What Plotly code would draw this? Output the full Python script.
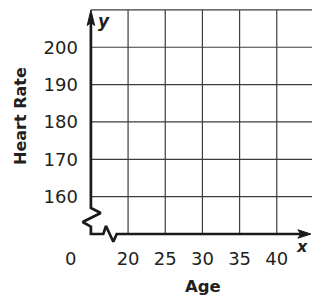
import plotly.graph_objects as go

# ---- data / labels ----
X_TICKS = [20, 25, 30, 35, 40]
Y_TICKS = [160, 170, 180, 190, 200]
Y_TOP = 210
X_ORIGIN, Y_ORIGIN = 15, 150
ZERO_LABEL = "0"
X_TITLE = "Age"
Y_TITLE = "Heart Rate"
X_VAR = "x"
Y_VAR = "y"

# ---- geometry ----
W, H = 312, 299
PX_X0 = 90.9       # pixel column of x = 15
PX_PER_X = 7.435   # pixels per x unit
PY_Y0 = 234.0      # pixel row of y = 150
PX_PER_Y = 3.735   # pixels per y unit

FONT = "DejaVu Sans"
TXT = "#231f20"
GRID = "#3c3c3c"
AXC = "#1a1a1a"


def px_to_x(px):
    return X_ORIGIN + (px - PX_X0) / PX_PER_X


def py_to_y(py):
    return Y_ORIGIN + (PY_Y0 - py) / PX_PER_Y


def off(dx, dy):
    """pixel offset from the origin -> data coords (dy positive = down)"""
    return px_to_x(PX_X0 + dx), py_to_y(PY_Y0 + dy)


x_max = px_to_x(W)
py_top = PY_Y0 - (Y_TOP - Y_ORIGIN) * PX_PER_Y

fig = go.Figure()

# invisible trace on the main (labelled) axes
fig.add_trace(go.Scatter(x=[], y=[], xaxis="x", yaxis="y", showlegend=False))

# grid lines (drawn on full-paper axes)
gx, gy = [], []
for v in X_TICKS:
    gx += [v, v, None]
    gy += [Y_ORIGIN, Y_TOP, None]
for v in Y_TICKS + [Y_TOP]:
    gx += [X_ORIGIN, x_max + 1, None]
    gy += [v, v, None]
fig.add_trace(go.Scatter(x=gx, y=gy, mode="lines", xaxis="x2", yaxis="y2",
                         line=dict(color=GRID, width=1.2), showlegend=False,
                         hoverinfo="skip"))

# axis lines with break symbols (pixel offsets from origin)
y_path = [(0, -212), (0, -26), (9.8, -21), (-8.2, -12), (0, -7.3), (0, 0)]
x_path = [(0, 0), (12.4, 0), (15.1, -8), (22.4, 7.7), (25.8, 0), (210, 0)]
pts = [off(*p) for p in y_path + x_path[1:]]
fig.add_trace(go.Scatter(x=[p[0] for p in pts], y=[p[1] for p in pts],
                         mode="lines", xaxis="x2", yaxis="y2",
                         line=dict(color=AXC, width=2.7), showlegend=False,
                         hoverinfo="skip"))

# arrowheads
for head in ([(0, -224), (-3.7, -208.5), (0, -211.5), (3.7, -208.5), (0, -224)],
             [(220, 0), (207, -4.2), (210, 0), (207, 4.2), (220, 0)]):
    hp = [off(*p) for p in head]
    fig.add_trace(go.Scatter(x=[p[0] for p in hp], y=[p[1] for p in hp],
                             mode="lines", fill="toself", fillcolor=AXC,
                             xaxis="x2", yaxis="y2",
                             line=dict(color=AXC, width=1), showlegend=False,
                             hoverinfo="skip"))


def ann(text, px, py, size, bold=False, italic=False, angle=0):
    return dict(text=text, x=px / W, y=1 - py / H, xref="paper", yref="paper",
                showarrow=False, xanchor="center", yanchor="middle",
                textangle=angle,
                font=dict(family=FONT, size=size, color=TXT,
                          weight="bold" if bold else "normal",
                          style="italic" if italic else "normal"))


fig.update_layout(
    width=W, height=H,
    margin=dict(l=0, r=0, t=0, b=0),
    paper_bgcolor="white", plot_bgcolor="rgba(0,0,0,0)",
    showlegend=False,
    xaxis=dict(domain=[PX_X0 / W, 1], range=[X_ORIGIN, x_max],
               tickvals=X_TICKS, ticktext=[str(v) for v in X_TICKS],
               showgrid=False, zeroline=False, showline=False, ticks="",
               ticklabelstandoff=12,
               tickfont=dict(family=FONT, size=18, color=TXT),
               anchor="y", fixedrange=True),
    yaxis=dict(domain=[(H - PY_Y0) / H, (H - py_top) / H],
               range=[Y_ORIGIN, Y_TOP],
               tickvals=Y_TICKS, ticktext=[str(v) for v in Y_TICKS],
               showgrid=False, zeroline=False, showline=False, ticks="",
               ticklabelstandoff=12,
               tickfont=dict(family=FONT, size=18, color=TXT),
               anchor="x", fixedrange=True),
    xaxis2=dict(domain=[0, 1], range=[px_to_x(0), px_to_x(W)], visible=False,
                anchor="y2", fixedrange=True),
    yaxis2=dict(domain=[0, 1], range=[py_to_y(H), py_to_y(0)], visible=False,
                anchor="x2", fixedrange=True),
    annotations=[
        ann(ZERO_LABEL, 70, 258, 18),
        ann(X_TITLE, 203, 286, 16.5, bold=True),
        ann(Y_TITLE, 21, 116, 16, bold=True, angle=-90),
        ann(Y_VAR, 104.5, 21.5, 17, bold=True, italic=True),
        ann(X_VAR, 301.5, 246.5, 16, bold=True, italic=True),
    ],
)

fig.write_html("out.html", config=dict(displayModeBar=False, staticPlot=True),
               post_script="document.body.style.margin='0';"
                           "document.body.style.overflow='hidden';")
